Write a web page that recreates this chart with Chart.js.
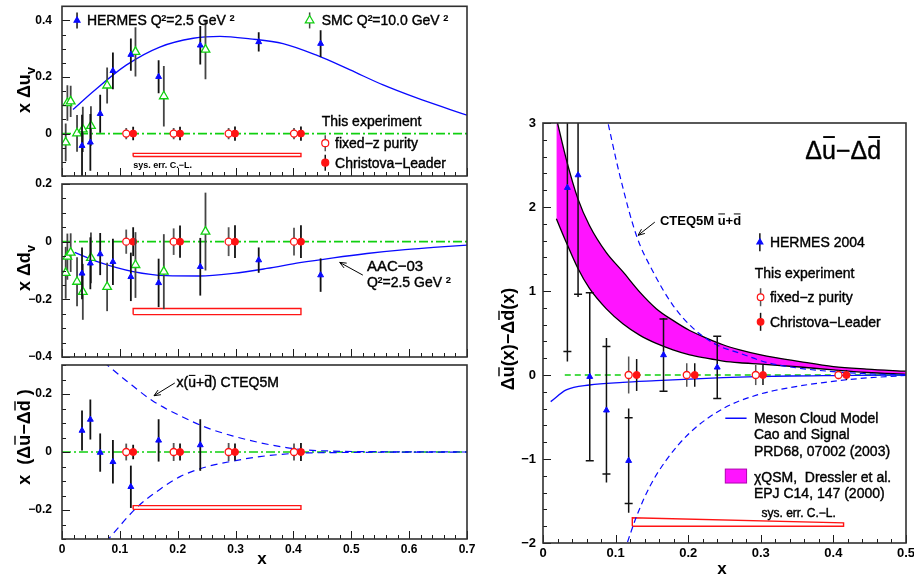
<!DOCTYPE html>
<html>
<head>
<meta charset="utf-8">
<title>Sea quark polarisation asymmetry</title>
<script src="https://cdn.jsdelivr.net/npm/chart.js@4.4.0/dist/chart.umd.min.js"></script>
<style>
  html, body { margin: 0; padding: 0; background: #fff; }
  #page { position: relative; width: 914px; height: 577px; overflow: hidden; }
  #page canvas { position: absolute; left: 0; top: 0; }
</style>
</head>
<body>
<div id="page">
  <canvas id="uvChart" width="914" height="577"></canvas>
  <canvas id="dvChart" width="914" height="577"></canvas>
  <canvas id="seaChart" width="914" height="577"></canvas>
  <canvas id="ratioChart" width="914" height="577"></canvas>
</div>
<script>
const W = 914, H = 577;
const FONT = '"Liberation Sans", Arial, Helvetica, sans-serif';

// HERMES, Q2 = 2.5 GeV2
const hermesX = [0.0346, 0.049, 0.066, 0.088, 0.119, 0.167, 0.239, 0.340, 0.447];
const hermesUv = [-0.043, -0.031, 0.070, 0.222, 0.279, 0.201, 0.312, 0.324, 0.318];
const hermesUvErr = [0.11, 0.10, 0.067, 0.065, 0.057, 0.058, 0.068, 0.034, 0.047];
const hermesDv = [-0.110, -0.075, -0.043, -0.070, -0.122, -0.143, -0.087, -0.064, -0.116];
const hermesDvErr = [0.090, 0.090, 0.073, 0.080, 0.084, 0.084, 0.100, 0.044, 0.058];
const hermesSeaX = [0.0346, 0.049, 0.066, 0.088, 0.119, 0.167, 0.239];
const hermesSea = [0.074, 0.112, -0.002, -0.034, -0.120, 0.040, 0.024];
const hermesSeaErr = [0.069, 0.069, 0.066, 0.075, 0.073, 0.073, 0.089];

// SMC, Q2 = 10 GeV2
const smcX = [0.0064, 0.0093, 0.015, 0.026, 0.036, 0.050, 0.078, 0.127, 0.176, 0.248];
const smcUv = [-0.031, 0.108, 0.114, 0.001, 0.015, 0.027, 0.170, 0.289, 0.132, 0.297];
const smcUvErr = [0.067, 0.063, 0.055, 0.065, 0.080, 0.070, 0.064, 0.087, 0.107, 0.105];
const smcDv = [-0.108, -0.052, -0.038, -0.139, -0.174, -0.056, -0.157, -0.081, -0.104, 0.035];
const smcDvErr = [0.090, 0.080, 0.067, 0.085, 0.097, 0.088, 0.084, 0.114, 0.130, 0.135];

// this experiment (projected, centred on zero)
const fixedZX = [0.111, 0.193, 0.288, 0.401];
const clX = [0.123, 0.204, 0.299, 0.413];
const redY = [0, 0, 0, 0];
const fixedZUvErr = [0.020, 0.020, 0.020, 0.020];
const clUvErr = [0.024, 0.024, 0.025, 0.025];
const fixedZDvErr = [0.042, 0.046, 0.050, 0.048];
const clDvErr = [0.050, 0.056, 0.057, 0.057];
const fixedZSeaErr = [0.029, 0.031, 0.031, 0.029];
const clSeaErr = [0.025, 0.029, 0.029, 0.031];

// systematic error bands (C.-L.)
const sysBoxX = [0.123, 0.123, 0.413, 0.413, 0.123];
const sysUvY = [-0.081, -0.070, -0.070, -0.081, -0.081];
const sysDvY = [-0.253, -0.232, -0.232, -0.253, -0.253];
const sysSeaY = [-0.198, -0.185, -0.185, -0.198, -0.198];

// AAC-03 curves and CTEQ5M envelope
const aacUvX = [0.019, 0.054, 0.111, 0.169, 0.227, 0.273, 0.325, 0.382, 0.44, 0.498, 0.555, 0.613, 0.671, 0.70];
const aacUv = [0.085, 0.149, 0.242, 0.306, 0.337, 0.344, 0.335, 0.318, 0.277, 0.225, 0.172, 0.126, 0.085, 0.065];
const aacDvX = [0.022, 0.065, 0.123, 0.180, 0.238, 0.296, 0.354, 0.411, 0.469, 0.527, 0.584, 0.642, 0.70];
const aacDv = [-0.037, -0.072, -0.104, -0.118, -0.119, -0.110, -0.093, -0.073, -0.056, -0.041, -0.029, -0.020, -0.012];
const cteqUpX = [0.072, 0.111, 0.157, 0.204, 0.250, 0.296, 0.342, 0.388, 0.423, 0.47, 0.55, 0.70];
const cteqUp = [0.31, 0.246, 0.176, 0.125, 0.084, 0.055, 0.032, 0.015, 0.007, 0.003, 0.001, 0];
const cteqLoX = [0.076, 0.129, 0.169, 0.204, 0.250, 0.296, 0.342, 0.40, 0.47, 0.70];
const cteqLo = [-0.31, -0.192, -0.129, -0.085, -0.051, -0.031, -0.016, -0.005, -0.002, 0];
const zeroLineX = [0, 0.7];
const zeroLineY = [0, 0];

// right panel: Δū(x) − Δd̄(x)
const rHermesX = [0.0336, 0.0483, 0.0644, 0.0874, 0.118, 0.166, 0.240];
const rHermesY = [2.23, 2.38, -0.02, -0.42, -1.02, 0.238, 0.091];
const rHermesStat = [1.95, 1.42, 1.0, 0.76, 0.51, 0.43, 0.37];
const rHermesTot = [2.07, 1.45, 1.0, 0.86, 0.62, 0.44, 0.38];
const rFixedX = [0.118, 0.198, 0.293, 0.407];
const rFixedErr = [0.22, 0.14, 0.12, 0.05];
const rClX = [0.129, 0.209, 0.303, 0.418];
const rClErr = [0.19, 0.14, 0.12, 0.06];
const mesonX = [0.0106, 0.032, 0.064, 0.110, 0.156, 0.202, 0.248, 0.294, 0.340, 0.386, 0.432, 0.5];
const mesonY = [-0.317, -0.178, -0.119, -0.087, -0.067, -0.048, -0.032, -0.020, -0.012, -0.008, -0.004, 0];
const qsmX = [0.0184, 0.032, 0.048, 0.064, 0.087, 0.110, 0.133, 0.156, 0.179, 0.202, 0.225, 0.248, 0.271, 0.30, 0.354, 0.40, 0.446, 0.5];
const qsmUp = [3.06, 2.57, 2.10, 1.78, 1.46, 1.23, 0.99, 0.79, 0.65, 0.53, 0.44, 0.36, 0.30, 0.24, 0.16, 0.10, 0.07, 0.045];
const qsmLo = [1.86, 1.58, 1.27, 1.03, 0.79, 0.61, 0.475, 0.376, 0.30, 0.24, 0.20, 0.166, 0.146, 0.13, 0.095, 0.06, 0.03, 0.008];
const rCteqUpX = [0.087, 0.1057, 0.1287, 0.1516, 0.179, 0.207, 0.239, 0.271, 0.308, 0.354, 0.40, 0.446, 0.5];
const rCteqUp = [3.1, 2.38, 1.66, 1.23, 0.83, 0.555, 0.36, 0.26, 0.15, 0.08, 0.04, 0.015, 0.003];
const rCteqLoX = [0.112, 0.129, 0.147, 0.170, 0.202, 0.248, 0.294, 0.340, 0.386, 0.432, 0.5];
const rCteqLo = [-2.1, -1.68, -1.33, -1.01, -0.69, -0.40, -0.24, -0.15, -0.09, -0.045, -0.005];
const rZeroX = [0.03, 0.5];
const rSysX = [0.123, 0.123, 0.414, 0.414, 0.123];
const rSysY = [-1.80, -1.70, -1.76, -1.80, -1.80];

// ticks
const xTicksLeft = [0, 0.1, 0.2, 0.3, 0.4, 0.5, 0.6, 0.7];
const yTicksUv = [0, 0.2, 0.4];
const yTicksDv = [-0.4, -0.2, 0, 0.2];
const yTicksSea = [-0.2, 0, 0.2];
const xTicksRight = [0, 0.1, 0.2, 0.3, 0.4, 0.5];
const yTicksRight = [-2, -1, 0, 1, 2, 3];

const BLUE = '#0a0aff', GREEN = '#10d010', RED = '#ff1414', MAGENTA = '#ff14ff';

function fmtTick(v) {
    if (Math.abs(v) < 1e-9) return '0';
    return (v < 0 ? '−' : '') + String(+Math.abs(v).toFixed(2));
}

const pts = (xs, ys) => xs.map((x, i) => ({ x, y: ys[i] }));

function markers(xs, ys, err, style, extra) {
    return Object.assign({ data: pts(xs, ys), err, showLine: false }, style, extra || {});
}

function curve(xs, ys, color, width, dash) {
    return {
        data: pts(xs, ys), showLine: true, pointRadius: 0, borderColor: color,
        borderWidth: width, borderDash: dash || [], cubicInterpolationMode: 'monotone', fill: false
    };
}

function polygon(xs, ys, color) {
    return { data: pts(xs, ys), showLine: true, pointRadius: 0, borderColor: color, borderWidth: 1.4, tension: 0, fill: false };
}

const sHermes = { pointStyle: 'triangle', pointRadius: 3.4, backgroundColor: BLUE, borderColor: BLUE, pointBorderWidth: 1, errColor: '#111' };
const sSmc = { pointStyle: 'triangle', pointRadius: 5, backgroundColor: '#fff', borderColor: GREEN, pointBorderWidth: 1.3, errColor: '#444' };
const sFixed = { pointStyle: 'circle', pointRadius: 3.5, backgroundColor: '#fff', borderColor: RED, pointBorderWidth: 1.3, errColor: '#555' };
const sCL = { pointStyle: 'circle', pointRadius: 3.5, backgroundColor: RED, borderColor: RED, pointBorderWidth: 1, errColor: '#111' };

// error bars are drawn just before each dataset's own markers
const errorBars = {
    id: 'errorBars',
    beforeDatasetDraw(chart, args) {
        const ds = chart.data.datasets[args.index];
        if (!ds.err) return;
        const { ctx, chartArea: a, scales: { x, y } } = chart;
        ctx.save();
        ctx.beginPath();
        ctx.rect(a.left, a.top, a.width, a.height);
        ctx.clip();
        ctx.strokeStyle = ds.errColor || '#111';
        ctx.lineWidth = ds.errWidth || 1.8;
        ds.data.forEach((p, i) => {
            const px = x.getPixelForValue(p.x);
            const tot = ds.errTot ? ds.errTot[i] : ds.err[i];
            ctx.beginPath();
            ctx.moveTo(px, y.getPixelForValue(p.y - tot));
            ctx.lineTo(px, y.getPixelForValue(p.y + tot));
            if (ds.cap) {
                [p.y - ds.err[i], p.y + ds.err[i]].forEach(v => {
                    const py = y.getPixelForValue(v);
                    ctx.moveTo(px - ds.cap, py);
                    ctx.lineTo(px + ds.cap, py);
                });
            }
            ctx.stroke();
        });
        ctx.restore();
    }
};

// ROOT style frame with inward ticks on the left and bottom
function rootFrame(f) {
    const isMajor = (v, step) => Math.abs(v / step - Math.round(v / step)) < 1e-6;
    return {
        id: 'rootFrame',
        afterDraw(chart) {
            const { ctx, chartArea: a, scales: { x, y } } = chart;
            ctx.save();
            ctx.strokeStyle = '#1a1a1a';
            ctx.lineWidth = 1;
            ctx.beginPath();
            for (let k = Math.ceil(x.min / f.xMinor - 1e-6); k * f.xMinor <= x.max + 1e-9; k++) {
                const v = k * f.xMinor, px = Math.round(x.getPixelForValue(v)) + 0.5;
                ctx.moveTo(px, a.bottom);
                ctx.lineTo(px, a.bottom - (isMajor(v, f.xMajor) ? 8 : 4));
            }
            for (let k = Math.ceil(y.min / f.yMinor - 1e-6); k * f.yMinor <= y.max + 1e-9; k++) {
                const v = k * f.yMinor, py = Math.round(y.getPixelForValue(v)) + 0.5;
                ctx.moveTo(a.left, py);
                ctx.lineTo(a.left + (isMajor(v, f.yMajor) ? 8 : 4), py);
            }
            ctx.stroke();
            ctx.strokeStyle = '#303030';
            ctx.lineWidth = 1.6;
            ctx.strokeRect(a.left, a.top, a.width, a.height);
            ctx.restore();
        }
    };
}

// text with overlines / subscripts, y is the visual middle of the line
function drawRich(ctx, parts, x, y, size, weight, align, color) {
    const segs = parts.map(p => typeof p === 'string' ? { t: p } : { t: p[0], f: p[1] });
    const fontFor = s => `${weight} ${s.f === 'sub' ? Math.round(size * 0.7) : size}px ${FONT}`;
    let w = 0;
    segs.forEach(s => { ctx.font = fontFor(s); s.w = ctx.measureText(s.t).width; w += s.w; });
    let cx = align === 'center' ? x - w / 2 : align === 'right' ? x - w : x;
    const base = y + size * 0.36;
    ctx.fillStyle = color;
    ctx.strokeStyle = color;
    ctx.textAlign = 'left';
    ctx.textBaseline = 'alphabetic';
    segs.forEach(s => {
        ctx.font = fontFor(s);
        const by = base + (s.f === 'sub' ? size * 0.25 : 0);
        ctx.fillText(s.t, cx, by);
        if (weight === 'normal') {
            // ROOT's Helvetica renders a little heavier
            ctx.lineWidth = 0.4;
            ctx.strokeText(s.t, cx, by);
        }
        if (s.f === 'bar') {
            ctx.lineWidth = Math.max(1, size / 13);
            ctx.beginPath();
            ctx.moveTo(cx + s.w * 0.08, base - size * 0.86);
            ctx.lineTo(cx + s.w * 0.92, base - size * 0.86);
            ctx.stroke();
        }
        cx += s.w;
    });
}

function drawMarker(ctx, style, px, py, r) {
    ctx.beginPath();
    if (style === 'triangle') {
        ctx.moveTo(px, py - r);
        ctx.lineTo(px + r * 0.866, py + r * 0.5);
        ctx.lineTo(px - r * 0.866, py + r * 0.5);
        ctx.closePath();
    } else {
        ctx.arc(px, py, r, 0, Math.PI * 2);
    }
    ctx.fill();
    ctx.stroke();
}

function notes(items) {
    return {
        id: 'notes',
        afterDraw(chart) {
            const { ctx, scales: { x, y } } = chart;
            const X = it => it.px !== undefined ? it.px : x.getPixelForValue(it.x);
            const Y = it => it.py !== undefined ? it.py : y.getPixelForValue(it.y);
            ctx.save();
            items.forEach(it => {
                if (it.kind === 'text') {
                    ctx.save();
                    ctx.translate(X(it), Y(it));
                    if (it.rot) ctx.rotate(-Math.PI / 2);
                    drawRich(ctx, it.parts, 0, 0, it.size, it.weight || 'normal', it.align || 'left', it.color || '#000');
                    ctx.restore();
                } else if (it.kind === 'arrow') {
                    const x1 = x.getPixelForValue(it.x1), y1 = y.getPixelForValue(it.y1);
                    const x2 = x.getPixelForValue(it.x2), y2 = y.getPixelForValue(it.y2);
                    const ang = Math.atan2(y2 - y1, x2 - x1), hl = 7;
                    ctx.strokeStyle = '#000';
                    ctx.lineWidth = 1;
                    ctx.beginPath();
                    ctx.moveTo(x1, y1);
                    ctx.lineTo(x2, y2);
                    ctx.moveTo(x2 - hl * Math.cos(ang - 0.4), y2 - hl * Math.sin(ang - 0.4));
                    ctx.lineTo(x2, y2);
                    ctx.lineTo(x2 - hl * Math.cos(ang + 0.4), y2 - hl * Math.sin(ang + 0.4));
                    ctx.stroke();
                } else if (it.kind === 'marker') {
                    const px = X(it), py = Y(it);
                    ctx.strokeStyle = it.barColor || '#111';
                    ctx.lineWidth = 1.5;
                    ctx.beginPath();
                    ctx.moveTo(px, py - it.bar);
                    ctx.lineTo(px, py + it.bar);
                    ctx.stroke();
                    ctx.fillStyle = it.fill;
                    ctx.strokeStyle = it.color;
                    ctx.lineWidth = it.bw || 1.2;
                    drawMarker(ctx, it.style, px, py, it.r);
                } else if (it.kind === 'seg') {
                    ctx.strokeStyle = it.color;
                    ctx.lineWidth = it.width || 1.5;
                    ctx.beginPath();
                    ctx.moveTo(x.getPixelForValue(it.x1), y.getPixelForValue(it.y));
                    ctx.lineTo(x.getPixelForValue(it.x2), y.getPixelForValue(it.y));
                    ctx.stroke();
                } else if (it.kind === 'rect') {
                    const x1 = x.getPixelForValue(it.x1), x2 = x.getPixelForValue(it.x2);
                    const y1 = y.getPixelForValue(it.y1), y2 = y.getPixelForValue(it.y2);
                    ctx.fillStyle = it.fill;
                    ctx.fillRect(x1, y1, x2 - x1, y2 - y1);
                    ctx.strokeStyle = it.color;
                    ctx.lineWidth = 1;
                    ctx.strokeRect(x1, y1, x2 - x1, y2 - y1);
                }
            });
            ctx.restore();
        }
    };
}

function panel(id, box, xr, yr, xTicks, yTicks, showX, tickSize, yPad, frame, datasets, items) {
    const YW = 40, XH = showX ? 22 : 0;
    const tickFont = { family: FONT, size: tickSize, weight: 'bold' };
    return new Chart(document.getElementById(id), {
        type: 'scatter',
        data: { datasets },
        options: {
            responsive: false,
            animation: false,
            events: [],
            layout: { padding: { left: box.l - YW, right: W - box.r, top: box.t, bottom: H - box.b - XH } },
            plugins: { legend: { display: false }, tooltip: { enabled: false } },
            scales: {
                x: {
                    type: 'linear', min: xr[0], max: xr[1],
                    grid: { display: false, drawTicks: false }, border: { display: false },
                    ticks: { display: showX, autoSkip: false, maxRotation: 0, padding: 3, color: '#000', font: tickFont, callback: fmtTick },
                    afterBuildTicks: s => { s.ticks = xTicks.map(v => ({ value: v })); },
                    afterFit: s => { s.height = XH; s.paddingLeft = 0; s.paddingRight = 0; }
                },
                y: {
                    type: 'linear', min: yr[0], max: yr[1],
                    grid: { display: false, drawTicks: false }, border: { display: false },
                    ticks: { autoSkip: false, padding: yPad, color: '#000', font: tickFont, callback: fmtTick },
                    afterBuildTicks: s => { s.ticks = yTicks.map(v => ({ value: v })); },
                    afterFit: s => { s.width = YW; s.paddingTop = 0; s.paddingBottom = 0; }
                }
            }
        },
        plugins: [errorBars, rootFrame(frame), notes(items)]
    });
}

const leftFrame = { xMinor: 0.02, xMajor: 0.1, yMinor: 0.05, yMajor: 0.2 };
const zeroDashDot = [9, 3, 2, 3];

// ---- x Δu_v ----
panel('uvChart', { l: 62, r: 467, t: 3.5, b: 176 }, [0, 0.7], [-0.15, 0.45], xTicksLeft, yTicksUv, false, 12, 10, leftFrame, [
    markers(hermesX, hermesUv, hermesUvErr, sHermes),
    markers(smcX, smcUv, smcUvErr, sSmc),
    markers(clX, redY, clUvErr, sCL),
    markers(fixedZX, redY, fixedZUvErr, sFixed),
    curve(aacUvX, aacUv, BLUE, 1.3),
    polygon(sysBoxX, sysUvY, RED),
    curve(zeroLineX, zeroLineY, GREEN, 1.6, zeroDashDot)
], [
    { kind: 'text', px: 24, py: 90, rot: true, parts: ['x Δu', ['v', 'sub']], size: 18, weight: 'bold', align: 'center' },
    { kind: 'marker', x: 0.026, y: 0.40, style: 'triangle', r: 3.4, fill: BLUE, color: BLUE, bar: 8 },
    { kind: 'text', x: 0.043, y: 0.40, parts: ['HERMES Q²=2.5 GeV ²'], size: 14 },
    { kind: 'marker', x: 0.428, y: 0.40, style: 'triangle', r: 5, fill: '#fff', color: GREEN, bar: 8, barColor: '#444' },
    { kind: 'text', x: 0.449, y: 0.40, parts: ['SMC Q²=10.0 GeV ²'], size: 14 },
    { kind: 'text', x: 0.449, y: 0.044, parts: ['This experiment'], size: 14 },
    { kind: 'marker', x: 0.455, y: -0.034, style: 'circle', r: 3.5, fill: '#fff', color: RED, bar: 8, barColor: '#555' },
    { kind: 'text', x: 0.472, y: -0.034, parts: ['fixed−z purity'], size: 14 },
    { kind: 'marker', x: 0.455, y: -0.103, style: 'circle', r: 3.5, fill: RED, color: RED, bar: 8 },
    { kind: 'text', x: 0.472, y: -0.103, parts: ['Christova−Leader'], size: 14 },
    { kind: 'text', x: 0.123, y: -0.110, parts: ['sys. err. C.−L.'], size: 9, weight: 'bold' }
]);

// ---- x Δd_v ----
panel('dvChart', { l: 62, r: 467, t: 184, b: 357 }, [0, 0.7], [-0.4, 0.2], xTicksLeft, yTicksDv, false, 12, 10, leftFrame, [
    markers(hermesX, hermesDv, hermesDvErr, sHermes),
    markers(smcX, smcDv, smcDvErr, sSmc),
    markers(clX, redY, clDvErr, sCL),
    markers(fixedZX, redY, fixedZDvErr, sFixed),
    curve(aacDvX, aacDv, BLUE, 1.3),
    polygon(sysBoxX, sysDvY, RED),
    curve(zeroLineX, zeroLineY, GREEN, 1.6, zeroDashDot)
], [
    { kind: 'text', px: 24, py: 268, rot: true, parts: ['x Δd', ['v', 'sub']], size: 18, weight: 'bold', align: 'center' },
    { kind: 'text', x: 0.527, y: -0.083, parts: ['AAC−03'], size: 15 },
    { kind: 'text', x: 0.527, y: -0.139, parts: ['Q²=2.5 GeV ²'], size: 14 },
    { kind: 'arrow', x1: 0.52, y1: -0.116, x2: 0.48, y2: -0.072 }
]);

// ---- x (Δū − Δd̄) ----
panel('seaChart', { l: 62, r: 467, t: 365, b: 539 }, [0, 0.7], [-0.3, 0.3], xTicksLeft, yTicksSea, true, 12, 10, leftFrame, [
    markers(hermesSeaX, hermesSea, hermesSeaErr, sHermes),
    markers(clX, redY, clSeaErr, sCL),
    markers(fixedZX, redY, fixedZSeaErr, sFixed),
    polygon(sysBoxX, sysSeaY, RED),
    curve(cteqUpX, cteqUp, BLUE, 1.2, [7, 5]),
    curve(cteqLoX, cteqLo, BLUE, 1.2, [7, 5]),
    curve(zeroLineX, zeroLineY, GREEN, 1.6, zeroDashDot)
], [
    { kind: 'text', px: 24, py: 437, rot: true, parts: ['x  (Δ', ['u', 'bar'], '−Δ', ['d', 'bar'], ' )'], size: 18, weight: 'bold', align: 'center' },
    { kind: 'text', px: 262, py: 558, parts: ['x'], size: 17, weight: 'bold', align: 'center' },
    { kind: 'text', x: 0.198, y: 0.24, parts: ['x(', ['u', 'bar'], '+', ['d', 'bar'], ') CTEQ5M'], size: 14 },
    { kind: 'arrow', x1: 0.195, y1: 0.238, x2: 0.159, y2: 0.194 }
]);

// ---- Δū(x) − Δd̄(x) ----
panel('ratioChart', { l: 543, r: 906, t: 123, b: 543 }, [0, 0.5], [-2, 3], xTicksRight, yTicksRight, true, 13, 7,
    { xMinor: 0.02, xMajor: 0.1, yMinor: 0.2, yMajor: 1 }, [
    markers(rHermesX, rHermesY, rHermesStat, sHermes, { errTot: rHermesTot, cap: 4, errWidth: 1.5 }),
    markers(rFixedX, redY, rFixedErr, sFixed, { errWidth: 1.5 }),
    markers(rClX, redY, rClErr, sCL, { errWidth: 1.5 }),
    curve(mesonX, mesonY, BLUE, 1.3),
    curve(rCteqUpX, rCteqUp, BLUE, 1.2, [6, 4]),
    curve(rCteqLoX, rCteqLo, BLUE, 1.2, [6, 4]),
    polygon(rSysX, rSysY, RED),
    curve(rZeroX, zeroLineY, GREEN, 1.3, [6, 4]),
    { data: pts(qsmX, qsmLo), showLine: true, pointRadius: 0, borderColor: '#000', borderWidth: 1.3, cubicInterpolationMode: 'monotone', fill: false },
    { data: pts(qsmX, qsmUp), showLine: true, pointRadius: 0, borderColor: '#000', borderWidth: 1.3, cubicInterpolationMode: 'monotone', fill: '-1', backgroundColor: MAGENTA }
], [
    { kind: 'text', px: 508, py: 339, rot: true, parts: ['Δ', ['u', 'bar'], '(x)−Δ', ['d', 'bar'], '(x)'], size: 18, weight: 'bold', align: 'center' },
    { kind: 'text', px: 722, py: 568, parts: ['x'], size: 17, weight: 'bold', align: 'center' },
    { kind: 'text', x: 0.4136, y: 2.684, parts: ['Δ', ['u', 'bar'], '−Δ', ['d', 'bar']], size: 25, align: 'center' },
    { kind: 'text', x: 0.161, y: 1.84, parts: ['CTEQ5M ', ['u', 'bar'], '+', ['d', 'bar']], size: 13, weight: 'bold' },
    { kind: 'arrow', x1: 0.154, y1: 1.82, x2: 0.131, y2: 1.663 },
    { kind: 'marker', x: 0.2987, y: 1.58, style: 'triangle', r: 3.4, fill: BLUE, color: BLUE, bar: 9 },
    { kind: 'text', x: 0.3125, y: 1.58, parts: ['HERMES 2004'], size: 14 },
    { kind: 'text', x: 0.2917, y: 1.21, parts: ['This experiment'], size: 14 },
    { kind: 'marker', x: 0.2997, y: 0.926, style: 'circle', r: 3.3, fill: '#fff', color: RED, bar: 9, barColor: '#555' },
    { kind: 'text', x: 0.3125, y: 0.926, parts: ['fixed−z purity'], size: 14 },
    { kind: 'marker', x: 0.2997, y: 0.633, style: 'circle', r: 3.3, fill: RED, color: RED, bar: 9 },
    { kind: 'text', x: 0.3125, y: 0.633, parts: ['Christova−Leader'], size: 14 },
    { kind: 'seg', x1: 0.2511, x2: 0.2804, y: -0.515, color: BLUE, width: 1.5 },
    { kind: 'text', x: 0.2905, y: -0.515, parts: ['Meson Cloud Model'], size: 14 },
    { kind: 'text', x: 0.2905, y: -0.705, parts: ['Cao and Signal'], size: 14 },
    { kind: 'text', x: 0.2905, y: -0.899, parts: ['PRD68, 07002 (2003)'], size: 14 },
    { kind: 'rect', x1: 0.2511, x2: 0.2804, y1: -1.12, y2: -1.286, fill: MAGENTA, color: '#b000b0' },
    { kind: 'text', x: 0.2905, y: -1.208, parts: ['χQSM,  Dressler et al.'], size: 14 },
    { kind: 'text', x: 0.2905, y: -1.405, parts: ['EPJ C14, 147 (2000)'], size: 14 },
    { kind: 'text', x: 0.301, y: -1.643, parts: ['sys. err. C.−L.'], size: 12 }
]);
</script>
</body>
</html>
